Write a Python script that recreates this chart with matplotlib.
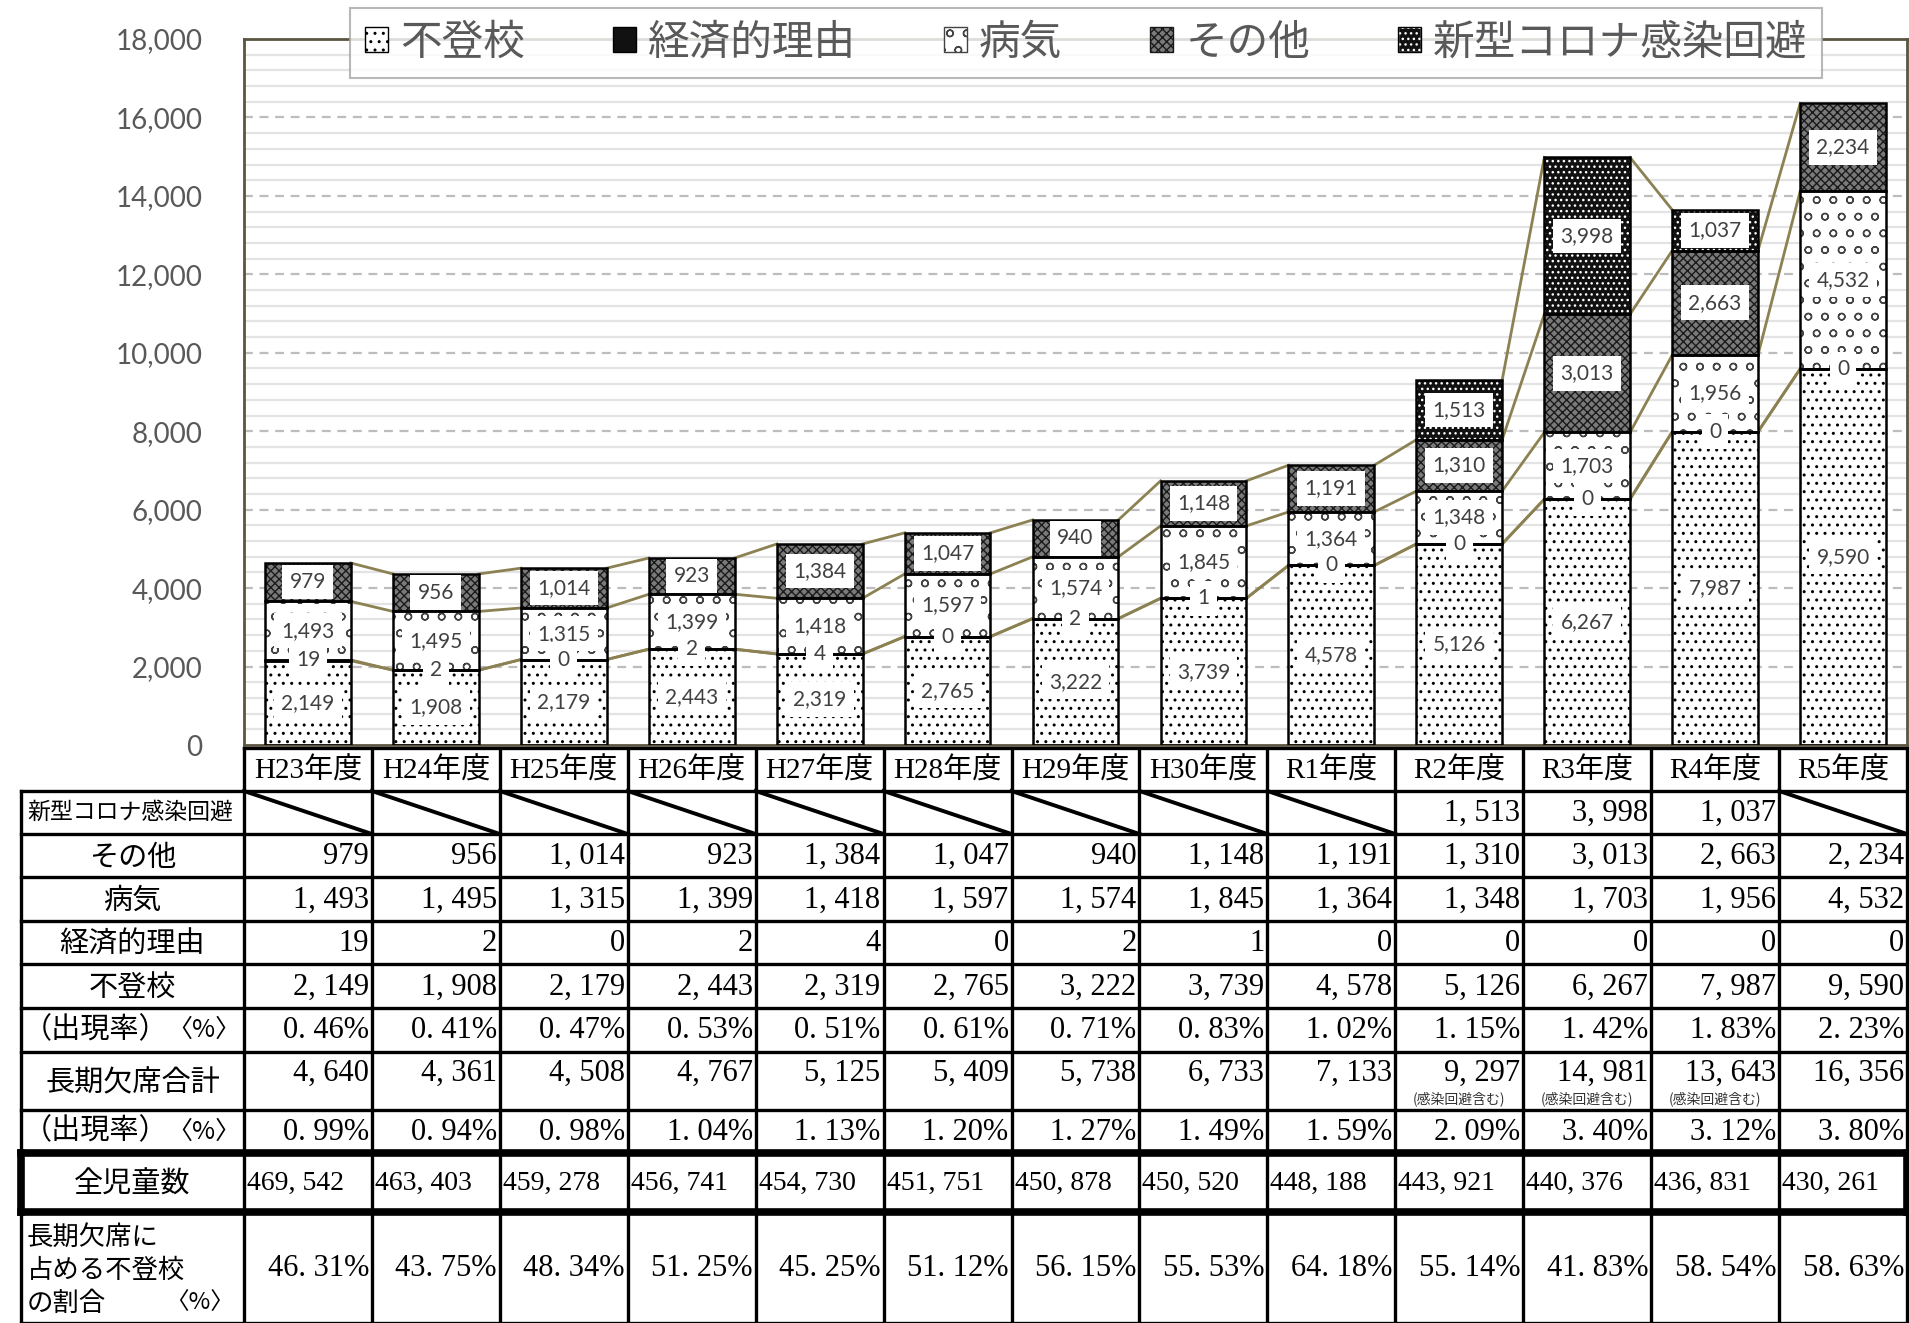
import numpy as np
import matplotlib
matplotlib.use('Agg')
import matplotlib.pyplot as plt
from matplotlib.patches import Patch

# data
years = ['H23年度', 'H24年度', 'H25年度', 'H26年度', 'H27年度', 'H28年度', 'H29年度',
         'H30年度', 'R1年度', 'R2年度', 'R3年度', 'R4年度', 'R5年度']
futoko = [2149, 1908, 2179, 2443, 2319, 2765, 3222, 3739, 4578, 5126, 6267, 7987, 9590]
keizai = [19, 2, 0, 2, 4, 0, 2, 1, 0, 0, 0, 0, 0]
byoki = [1493, 1495, 1315, 1399, 1418, 1597, 1574, 1845, 1364, 1348, 1703, 1956, 4532]
sonota = [979, 956, 1014, 923, 1384, 1047, 940, 1148, 1191, 1310, 3013, 2663, 2234]
corona = [None] * 9 + [1513, 3998, 1037, None]
futoko_rate = [0.46, 0.41, 0.47, 0.53, 0.51, 0.61, 0.71, 0.83, 1.02, 1.15, 1.42, 1.83, 2.23]
total = [4640, 4361, 4508, 4767, 5125, 5409, 5738, 6733, 7133, 9297, 14981, 13643, 16356]
total_note = [''] * 9 + ['(感染回避含む)'] * 3 + ['']
total_rate = [0.99, 0.94, 0.98, 1.04, 1.13, 1.20, 1.27, 1.49, 1.59, 2.09, 3.40, 3.12, 3.80]
students = [469542, 463403, 459278, 456741, 454730, 451751, 450878, 450520, 448188,
            443921, 440376, 436831, 430261]
share = [46.31, 43.75, 48.34, 51.25, 45.25, 51.12, 56.15, 55.53, 64.18, 55.14, 41.83, 58.54, 58.63]

W, H = 1909, 1323
fig = plt.figure(figsize=(W / 100, H / 100), dpi=100)

JP = ['Noto Sans CJK JP', 'DejaVu Sans']
SERIF = ['Liberation Serif', 'Noto Sans CJK JP']
LAB = ['Lato', 'Noto Sans CJK JP']

# table geometry (pixels)
col0 = 244
cw = (1907 - col0) / 13
lab0 = 21
row_edges = [748, 791, 834, 877, 921, 964, 1008, 1052, 1110, 1153, 1212, 1323]


def num(v):
    # table numbers are set in a wide-punctuation mincho style
    return f'{v:,}'.replace(',', ', ')


def pct(v):
    return f'{v:.2f}%'.replace('.', '. ')


# ---------------- chart ----------------
ax = fig.add_axes([col0 / W, 1 - 745 / H, (1907 - col0) / W, (745 - 39) / H])
x = np.arange(len(years))
bw = 0.67


def seg(vals, bottoms, face, hcol, hatch):
    idx = [i for i, v in enumerate(vals) if v is not None]
    hs = [vals[i] for i in idx]
    bs = [bottoms[i] for i in idx]
    ax.bar(x[idx], hs, bw, bottom=bs, color=face, edgecolor=hcol, hatch=hatch,
           linewidth=0, zorder=2)
    bars = ax.bar(x[idx], hs, bw, bottom=bs, fill=False, edgecolor='black',
                  linewidth=1.8, zorder=3)
    ax.bar_label(bars, labels=[f'{v:,}' for v in hs], label_type='center',
                 fontsize=15, color='#404040', family=LAB, zorder=6,
                 bbox=dict(boxstyle='square,pad=0.35', fc='white', ec='none'))
    return idx


b0 = [0] * 13
b1 = list(futoko)
b2 = [b1[i] + keizai[i] for i in range(13)]
b3 = [b2[i] + byoki[i] for i in range(13)]
b4 = [b3[i] + sonota[i] for i in range(13)]
b5 = [b4[i] + (corona[i] or 0) for i in range(13)]

seg(futoko, b0, 'white', 'black', '..')
seg(byoki, b2, 'white', '#444444', 'o')
seg(sonota, b3, '#7a7a7a', '#1a1a1a', 'xxxx')
seg(corona, b4, '#111111', 'white', '...')
seg(keizai, b1, 'white', 'black', None)

# series lines
olive = '#8c8152'
for tops, vals in [(b1, futoko), (b2, keizai), (b3, byoki), (b4, sonota), (b5, corona)]:
    for i in range(12):
        if vals[i] is None or vals[i + 1] is None:
            continue
        ax.plot([x[i] + bw / 2, x[i + 1] - bw / 2], [tops[i], tops[i + 1]],
                color=olive, lw=2, zorder=1.5)

ax.set_xlim(-0.5, 12.5)
ax.set_ylim(0, 18000)
ax.set_xticks([])
ax.set_yticks(np.arange(0, 18001, 2000))
ax.set_yticklabels([f'{v:,}' for v in range(0, 18001, 2000)], family=LAB,
                   fontsize=20, color='#595959')
ax.tick_params(axis='y', length=0, pad=30)
for g in range(400, 18000, 400):
    if g % 2000:
        ax.axhline(g, color='#e3e3e3', lw=1.6, zorder=0)
    else:
        ax.axhline(g, color='#bdbdbd', lw=1.6, ls=(0, (4, 3)), zorder=0)
for s in ax.spines.values():
    s.set_color('#5b5440')
    s.set_linewidth(2)

# legend
handles = [
    Patch(facecolor='white', edgecolor='black', hatch='..'),
    Patch(facecolor='#111111', edgecolor='black'),
    Patch(facecolor='white', edgecolor='#444444', hatch='o'),
    Patch(facecolor='#7a7a7a', edgecolor='#1a1a1a', hatch='xxxx'),
    (Patch(facecolor='#111111', edgecolor='white', hatch='...'),
     Patch(fill=False, edgecolor='black')),
]
names = ['不登校', '経済的理由', '病気', 'その他', '新型コロナ感染回避']
leg = fig.legend(handles, names, loc='upper center', bbox_to_anchor=(0.569, 0.994),
                 ncol=5, frameon=True, fancybox=False,
                 edgecolor='#a6a6a6', handlelength=0.55, handleheight=0.55,
                 handletextpad=0.3, columnspacing=2.1, borderpad=0.35,
                 borderaxespad=0, prop={'family': JP, 'size': 30})
leg.get_frame().set_linewidth(1.5)
for t in leg.get_texts():
    t.set_color('#595959')

# ---------------- table ----------------
tab = fig.add_axes([0, 0, 1, 1], zorder=-1)
tab.set_xlim(0, W)
tab.set_ylim(H, 0)
tab.axis('off')

lw = 2.4
colx = [col0 + i * cw for i in range(14)]

tab.plot([col0, colx[-1]], [row_edges[0], row_edges[0]], color='black', lw=lw)
for cx in colx:
    tab.plot([cx, cx], [row_edges[0], row_edges[-1]], color='black', lw=lw)
tab.plot([lab0, lab0], [row_edges[1], row_edges[-1]], color='black', lw=lw)
for y in row_edges[1:]:
    tw = 5.5 if y in (1153, 1212) else lw
    tab.plot([lab0, colx[-1]], [y, y], color='black', lw=tw)
tab.plot([lab0, lab0], [1153, 1212], color='black', lw=5.5)
tab.plot([colx[-1], colx[-1]], [1153, 1212], color='black', lw=5.5)


def mid(r):
    return (row_edges[r] + row_edges[r + 1]) / 2


for i, yname in enumerate(years):
    cx = col0 + (i + 0.5) * cw
    tab.text(cx, mid(0) + 1, yname, ha='center', va='center', fontsize=21, family=SERIF)

num_rows = [
    (1, corona, num),
    (2, sonota, num),
    (3, byoki, num),
    (4, keizai, num),
    (5, futoko, num),
    (6, futoko_rate, pct),
    (8, total_rate, pct),
    (10, share, pct),
]
for r, vals, fmt in num_rows:
    for i, v in enumerate(vals):
        if v is None:
            tab.plot([colx[i], colx[i + 1]], [row_edges[r], row_edges[r + 1]],
                     color='black', lw=2.8)
            continue
        tab.text(colx[i + 1] - 3, mid(r) + 1, fmt(v), ha='right', va='center',
                 fontsize=22, family=SERIF)

for i, v in enumerate(total):
    tab.text(colx[i + 1] - 3, row_edges[7] + 21, num(v), ha='right', va='center',
             fontsize=22, family=SERIF)
    if total_note[i]:
        tab.text(col0 + (i + 0.5) * cw, row_edges[7] + 47, total_note[i], ha='center',
                 va='center', fontsize=10, family=JP, color='#333333')
for i, v in enumerate(students):
    tab.text(colx[i] + 3, mid(9) + 1, num(v), ha='left', va='center', fontsize=20,
             family=SERIF)

lc = (lab0 + col0) / 2
tab.text(lab0 + 6, mid(1), '新型コロナ感染回避', ha='left', va='center', fontsize=16.5,
         family=JP)
for r, name in [(2, 'その他'), (3, '病気'), (4, '経済的理由'), (5, '不登校'),
                (7, '長期欠席合計'), (9, '全児童数')]:
    tab.text(lc, mid(r) + 2, name, ha='center', va='center', fontsize=21, family=JP)
for r in (6, 8):
    tab.text(lab0 + 2, mid(r), '（出現率）', ha='left', va='center', fontsize=21, family=JP)
    tab.text(col0 - 4, mid(r), '〈%〉', ha='right', va='center', fontsize=18, family=JP)
for k, line in enumerate(['長期欠席に', '占める不登校', 'の割合']):
    tab.text(lab0 + 6, 1237 + 33 * k, line, ha='left', va='center', fontsize=19, family=JP)
tab.text(col0 - 10, 1303, '〈%〉', ha='right', va='center', fontsize=17, family=JP)

fig.savefig('out.png', dpi=100)
